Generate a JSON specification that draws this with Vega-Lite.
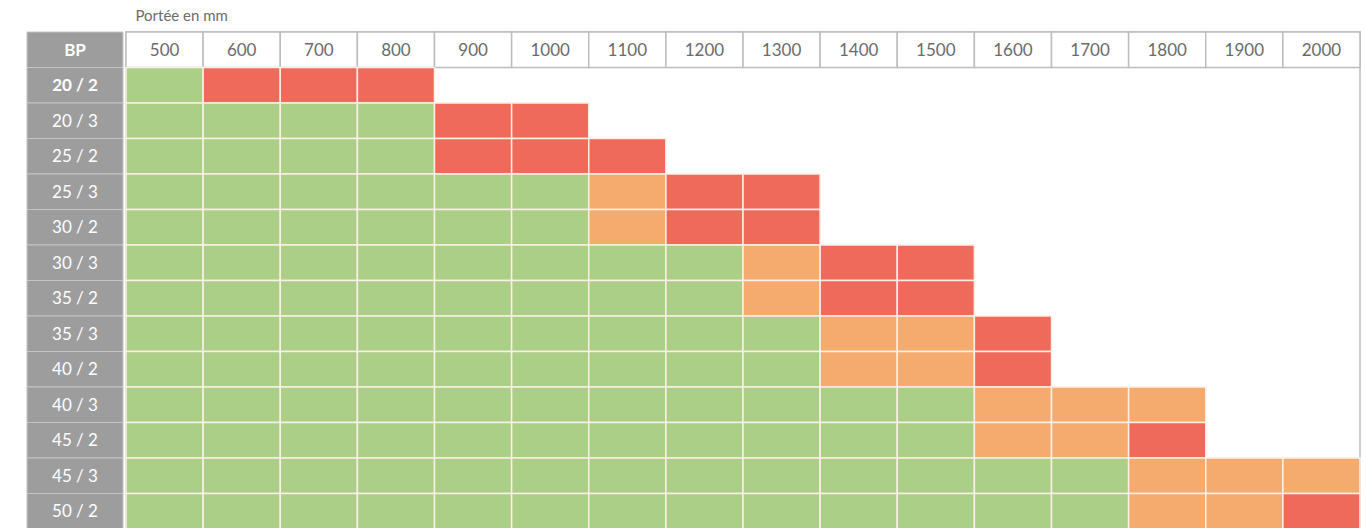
{
  "$schema": "https://vega.github.io/schema/vega-lite/v6.json",
  "background": "white",
  "padding": {"left": 26, "top": 8, "right": 0, "bottom": 0},
  "title": {"text": "Portée en mm", "anchor": "start", "dx": 109, "fontSize": 15, "font": "Lato", "fontWeight": "normal", "color": "#6b6b6b", "offset": 7},
  "spacing": 0,
  "config": {"view": {"stroke": null}, "concat": {"spacing": 0}},
  "datasets": {
    "rows": [
      {"bp": "BP"}, {"bp": "20 / 2"}, {"bp": "20 / 3"}, {"bp": "25 / 2"}, {"bp": "25 / 3"}, {"bp": "30 / 2"}, {"bp": "30 / 3"},
      {"bp": "35 / 2"}, {"bp": "35 / 3"}, {"bp": "40 / 2"}, {"bp": "40 / 3"}, {"bp": "45 / 2"}, {"bp": "45 / 3"}, {"bp": "50 / 2"}
    ],
    "cols": [
      {"bp": "BP", "mm": 500}, {"bp": "BP", "mm": 600}, {"bp": "BP", "mm": 700}, {"bp": "BP", "mm": 800},
      {"bp": "BP", "mm": 900}, {"bp": "BP", "mm": 1000}, {"bp": "BP", "mm": 1100}, {"bp": "BP", "mm": 1200},
      {"bp": "BP", "mm": 1300}, {"bp": "BP", "mm": 1400}, {"bp": "BP", "mm": 1500}, {"bp": "BP", "mm": 1600},
      {"bp": "BP", "mm": 1700}, {"bp": "BP", "mm": 1800}, {"bp": "BP", "mm": 1900}, {"bp": "BP", "mm": 2000}
    ],
    "cells": [
      {"bp": "20 / 2", "mm": 500, "etat": "ok"}, {"bp": "20 / 2", "mm": 600, "etat": "non"}, {"bp": "20 / 2", "mm": 700, "etat": "non"}, {"bp": "20 / 2", "mm": 800, "etat": "non"},

      {"bp": "20 / 3", "mm": 500, "etat": "ok"}, {"bp": "20 / 3", "mm": 600, "etat": "ok"}, {"bp": "20 / 3", "mm": 700, "etat": "ok"}, {"bp": "20 / 3", "mm": 800, "etat": "ok"},
      {"bp": "20 / 3", "mm": 900, "etat": "non"}, {"bp": "20 / 3", "mm": 1000, "etat": "non"},

      {"bp": "25 / 2", "mm": 500, "etat": "ok"}, {"bp": "25 / 2", "mm": 600, "etat": "ok"}, {"bp": "25 / 2", "mm": 700, "etat": "ok"}, {"bp": "25 / 2", "mm": 800, "etat": "ok"},
      {"bp": "25 / 2", "mm": 900, "etat": "non"}, {"bp": "25 / 2", "mm": 1000, "etat": "non"}, {"bp": "25 / 2", "mm": 1100, "etat": "non"},

      {"bp": "25 / 3", "mm": 500, "etat": "ok"}, {"bp": "25 / 3", "mm": 600, "etat": "ok"}, {"bp": "25 / 3", "mm": 700, "etat": "ok"}, {"bp": "25 / 3", "mm": 800, "etat": "ok"},
      {"bp": "25 / 3", "mm": 900, "etat": "ok"}, {"bp": "25 / 3", "mm": 1000, "etat": "ok"}, {"bp": "25 / 3", "mm": 1100, "etat": "lim"}, {"bp": "25 / 3", "mm": 1200, "etat": "non"},
      {"bp": "25 / 3", "mm": 1300, "etat": "non"},

      {"bp": "30 / 2", "mm": 500, "etat": "ok"}, {"bp": "30 / 2", "mm": 600, "etat": "ok"}, {"bp": "30 / 2", "mm": 700, "etat": "ok"}, {"bp": "30 / 2", "mm": 800, "etat": "ok"},
      {"bp": "30 / 2", "mm": 900, "etat": "ok"}, {"bp": "30 / 2", "mm": 1000, "etat": "ok"}, {"bp": "30 / 2", "mm": 1100, "etat": "lim"}, {"bp": "30 / 2", "mm": 1200, "etat": "non"},
      {"bp": "30 / 2", "mm": 1300, "etat": "non"},

      {"bp": "30 / 3", "mm": 500, "etat": "ok"}, {"bp": "30 / 3", "mm": 600, "etat": "ok"}, {"bp": "30 / 3", "mm": 700, "etat": "ok"}, {"bp": "30 / 3", "mm": 800, "etat": "ok"},
      {"bp": "30 / 3", "mm": 900, "etat": "ok"}, {"bp": "30 / 3", "mm": 1000, "etat": "ok"}, {"bp": "30 / 3", "mm": 1100, "etat": "ok"}, {"bp": "30 / 3", "mm": 1200, "etat": "ok"},
      {"bp": "30 / 3", "mm": 1300, "etat": "lim"}, {"bp": "30 / 3", "mm": 1400, "etat": "non"}, {"bp": "30 / 3", "mm": 1500, "etat": "non"},

      {"bp": "35 / 2", "mm": 500, "etat": "ok"}, {"bp": "35 / 2", "mm": 600, "etat": "ok"}, {"bp": "35 / 2", "mm": 700, "etat": "ok"}, {"bp": "35 / 2", "mm": 800, "etat": "ok"},
      {"bp": "35 / 2", "mm": 900, "etat": "ok"}, {"bp": "35 / 2", "mm": 1000, "etat": "ok"}, {"bp": "35 / 2", "mm": 1100, "etat": "ok"}, {"bp": "35 / 2", "mm": 1200, "etat": "ok"},
      {"bp": "35 / 2", "mm": 1300, "etat": "lim"}, {"bp": "35 / 2", "mm": 1400, "etat": "non"}, {"bp": "35 / 2", "mm": 1500, "etat": "non"},

      {"bp": "35 / 3", "mm": 500, "etat": "ok"}, {"bp": "35 / 3", "mm": 600, "etat": "ok"}, {"bp": "35 / 3", "mm": 700, "etat": "ok"}, {"bp": "35 / 3", "mm": 800, "etat": "ok"},
      {"bp": "35 / 3", "mm": 900, "etat": "ok"}, {"bp": "35 / 3", "mm": 1000, "etat": "ok"}, {"bp": "35 / 3", "mm": 1100, "etat": "ok"}, {"bp": "35 / 3", "mm": 1200, "etat": "ok"},
      {"bp": "35 / 3", "mm": 1300, "etat": "ok"}, {"bp": "35 / 3", "mm": 1400, "etat": "lim"}, {"bp": "35 / 3", "mm": 1500, "etat": "lim"}, {"bp": "35 / 3", "mm": 1600, "etat": "non"},

      {"bp": "40 / 2", "mm": 500, "etat": "ok"}, {"bp": "40 / 2", "mm": 600, "etat": "ok"}, {"bp": "40 / 2", "mm": 700, "etat": "ok"}, {"bp": "40 / 2", "mm": 800, "etat": "ok"},
      {"bp": "40 / 2", "mm": 900, "etat": "ok"}, {"bp": "40 / 2", "mm": 1000, "etat": "ok"}, {"bp": "40 / 2", "mm": 1100, "etat": "ok"}, {"bp": "40 / 2", "mm": 1200, "etat": "ok"},
      {"bp": "40 / 2", "mm": 1300, "etat": "ok"}, {"bp": "40 / 2", "mm": 1400, "etat": "lim"}, {"bp": "40 / 2", "mm": 1500, "etat": "lim"}, {"bp": "40 / 2", "mm": 1600, "etat": "non"},

      {"bp": "40 / 3", "mm": 500, "etat": "ok"}, {"bp": "40 / 3", "mm": 600, "etat": "ok"}, {"bp": "40 / 3", "mm": 700, "etat": "ok"}, {"bp": "40 / 3", "mm": 800, "etat": "ok"},
      {"bp": "40 / 3", "mm": 900, "etat": "ok"}, {"bp": "40 / 3", "mm": 1000, "etat": "ok"}, {"bp": "40 / 3", "mm": 1100, "etat": "ok"}, {"bp": "40 / 3", "mm": 1200, "etat": "ok"},
      {"bp": "40 / 3", "mm": 1300, "etat": "ok"}, {"bp": "40 / 3", "mm": 1400, "etat": "ok"}, {"bp": "40 / 3", "mm": 1500, "etat": "ok"}, {"bp": "40 / 3", "mm": 1600, "etat": "lim"},
      {"bp": "40 / 3", "mm": 1700, "etat": "lim"}, {"bp": "40 / 3", "mm": 1800, "etat": "lim"},

      {"bp": "45 / 2", "mm": 500, "etat": "ok"}, {"bp": "45 / 2", "mm": 600, "etat": "ok"}, {"bp": "45 / 2", "mm": 700, "etat": "ok"}, {"bp": "45 / 2", "mm": 800, "etat": "ok"},
      {"bp": "45 / 2", "mm": 900, "etat": "ok"}, {"bp": "45 / 2", "mm": 1000, "etat": "ok"}, {"bp": "45 / 2", "mm": 1100, "etat": "ok"}, {"bp": "45 / 2", "mm": 1200, "etat": "ok"},
      {"bp": "45 / 2", "mm": 1300, "etat": "ok"}, {"bp": "45 / 2", "mm": 1400, "etat": "ok"}, {"bp": "45 / 2", "mm": 1500, "etat": "ok"}, {"bp": "45 / 2", "mm": 1600, "etat": "lim"},
      {"bp": "45 / 2", "mm": 1700, "etat": "lim"}, {"bp": "45 / 2", "mm": 1800, "etat": "non"},

      {"bp": "45 / 3", "mm": 500, "etat": "ok"}, {"bp": "45 / 3", "mm": 600, "etat": "ok"}, {"bp": "45 / 3", "mm": 700, "etat": "ok"}, {"bp": "45 / 3", "mm": 800, "etat": "ok"},
      {"bp": "45 / 3", "mm": 900, "etat": "ok"}, {"bp": "45 / 3", "mm": 1000, "etat": "ok"}, {"bp": "45 / 3", "mm": 1100, "etat": "ok"}, {"bp": "45 / 3", "mm": 1200, "etat": "ok"},
      {"bp": "45 / 3", "mm": 1300, "etat": "ok"}, {"bp": "45 / 3", "mm": 1400, "etat": "ok"}, {"bp": "45 / 3", "mm": 1500, "etat": "ok"}, {"bp": "45 / 3", "mm": 1600, "etat": "ok"},
      {"bp": "45 / 3", "mm": 1700, "etat": "ok"}, {"bp": "45 / 3", "mm": 1800, "etat": "lim"}, {"bp": "45 / 3", "mm": 1900, "etat": "lim"}, {"bp": "45 / 3", "mm": 2000, "etat": "lim"},

      {"bp": "50 / 2", "mm": 500, "etat": "ok"}, {"bp": "50 / 2", "mm": 600, "etat": "ok"}, {"bp": "50 / 2", "mm": 700, "etat": "ok"}, {"bp": "50 / 2", "mm": 800, "etat": "ok"},
      {"bp": "50 / 2", "mm": 900, "etat": "ok"}, {"bp": "50 / 2", "mm": 1000, "etat": "ok"}, {"bp": "50 / 2", "mm": 1100, "etat": "ok"}, {"bp": "50 / 2", "mm": 1200, "etat": "ok"},
      {"bp": "50 / 2", "mm": 1300, "etat": "ok"}, {"bp": "50 / 2", "mm": 1400, "etat": "ok"}, {"bp": "50 / 2", "mm": 1500, "etat": "ok"}, {"bp": "50 / 2", "mm": 1600, "etat": "ok"},
      {"bp": "50 / 2", "mm": 1700, "etat": "ok"}, {"bp": "50 / 2", "mm": 1800, "etat": "lim"}, {"bp": "50 / 2", "mm": 1900, "etat": "lim"}, {"bp": "50 / 2", "mm": 2000, "etat": "non"}
    ]
  },
  "hconcat": [
    {
      "width": 96,
      "height": 497,
      "data": {"name": "rows"},
      "layer": [
        {
          "mark": {"type": "rect", "fill": "#9d9d9d", "stroke": "#c4c4c4", "strokeWidth": 1},
          "encoding": {
            "y": {"field": "bp", "type": "nominal", "axis": null,
                  "scale": {"domain": ["BP", "20 / 2", "20 / 3", "25 / 2", "25 / 3", "30 / 2", "30 / 3", "35 / 2", "35 / 3", "40 / 2", "40 / 3", "45 / 2", "45 / 3", "50 / 2"], "paddingInner": 0, "paddingOuter": 0}}
          }
        },
        {
          "transform": [{"filter": "datum.bp === 'BP' || datum.bp === '20 / 2'"}],
          "mark": {"type": "text", "color": "white", "fontWeight": "bold", "fontSize": 17, "font": "Lato", "dy": 1},
          "encoding": {
            "y": {"field": "bp", "type": "nominal", "axis": null},
            "text": {"field": "bp"}
          }
        },
        {
          "transform": [{"filter": "datum.bp !== 'BP' && datum.bp !== '20 / 2'"}],
          "mark": {"type": "text", "color": "white", "fontSize": 17, "font": "Lato", "dy": 1},
          "encoding": {
            "y": {"field": "bp", "type": "nominal", "axis": null},
            "text": {"field": "bp"}
          }
        }
      ]
    },
    {
      "width": 1234,
      "height": 497,
      "view": {"stroke": "#bdbdbd", "strokeWidth": 1.5},
      "layer": [
        {
          "data": {"name": "cols"},
          "mark": {"type": "rect", "fill": "white", "stroke": "#bdbdbd", "strokeWidth": 1.5},
          "encoding": {
            "x": {"field": "mm", "type": "ordinal", "axis": null,
                  "scale": {"domain": [500, 600, 700, 800, 900, 1000, 1100, 1200, 1300, 1400, 1500, 1600, 1700, 1800, 1900, 2000], "paddingInner": 0, "paddingOuter": 0}},
            "y": {"field": "bp", "type": "nominal", "axis": null,
                  "scale": {"domain": ["BP", "20 / 2", "20 / 3", "25 / 2", "25 / 3", "30 / 2", "30 / 3", "35 / 2", "35 / 3", "40 / 2", "40 / 3", "45 / 2", "45 / 3", "50 / 2"], "paddingInner": 0, "paddingOuter": 0}}
          }
        },
        {
          "data": {"name": "cols"},
          "mark": {"type": "text", "color": "#6b6b6b", "fontSize": 17, "font": "Lato", "dy": 1},
          "encoding": {
            "x": {"field": "mm", "type": "ordinal", "axis": null},
            "y": {"field": "bp", "type": "nominal", "axis": null},
            "text": {"field": "mm"}
          }
        },
        {
          "data": {"name": "cells"},
          "mark": {"type": "rect", "stroke": "#fbefe6", "strokeWidth": 1.5},
          "encoding": {
            "x": {"field": "mm", "type": "ordinal", "axis": null},
            "y": {"field": "bp", "type": "nominal", "axis": null},
            "color": {"field": "etat", "type": "nominal", "legend": null,
                      "scale": {"domain": ["ok", "lim", "non"], "range": ["#abcf87", "#f5ab6d", "#ef6a5a"]}}
          }
        }
      ]
    }
  ]
}
